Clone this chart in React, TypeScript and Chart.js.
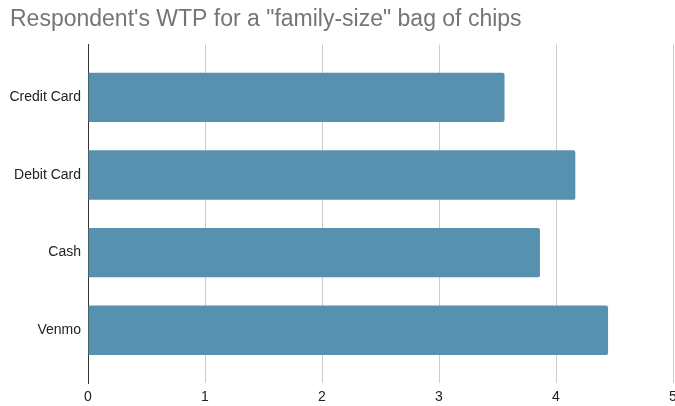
import React, { useEffect, useRef } from "react";
import { Chart, registerables } from "chart.js";

Chart.register(...registerables);

const title = 'Respondent\'s WTP for a "family-size" bag of chips';
const categories = ["Credit Card", "Debit Card", "Cash", "Venmo"];
const values = [3.56, 4.165, 3.863, 4.445];
const xTicks = [0, 1, 2, 3, 4, 5];

const FONT = "'Liberation Sans', Arial, sans-serif";

export default function App() {
  const ref = useRef<HTMLCanvasElement | null>(null);
  useEffect(() => {
    document.body.style.margin = "0";
    const canvas = ref.current;
    if (!canvas) return;
    const chart = new Chart(canvas, {
      type: "bar",
      data: {
        datasets: [
          {
            data: values.map((v, i) => ({ x: v, y: i })),
            backgroundColor: "#5891af",
            borderRadius: 2,
            borderSkipped: "start",
            categoryPercentage: 1,
            barPercentage: 0.636,
          },
        ],
      },
      options: {
        indexAxis: "y",
        animation: false,
        responsive: false,
        maintainAspectRatio: false,
        layout: { padding: { left: 10, right: 2, top: 0, bottom: 0 } },
        plugins: {
          legend: { display: false },
          tooltip: { enabled: false },
          title: {
            display: true,
            text: title,
            align: "start",
            color: "#757575",
            font: { family: FONT, size: 23, weight: "normal" },
            padding: { top: 6, bottom: 11 },
          },
        },
        scales: {
          x: {
            type: "linear",
            min: 0,
            max: 5,
            afterBuildTicks: (s: any) => {
              s.ticks = xTicks.map((v) => ({ value: v }));
            },
            afterFit: (s: any) => {
              s.paddingRight = 0;
              s.paddingLeft = 0;
              s.height = 23;
            },
            grid: {
              drawTicks: false,
              color: (c: any) => (c.tick && c.tick.value === 0 ? "#333333" : "#cccccc"),
              lineWidth: 1,
            },
            border: { display: false },
            ticks: {
              padding: 6,
              color: "#222222",
              font: { family: FONT, size: 14 },
            },
          },
          y: {
            type: "linear",
            offset: false,
            min: -0.68,
            max: 3.68,
            reverse: true,
            afterBuildTicks: (s: any) => {
              s.ticks = categories.map((_, i) => ({ value: i }));
            },
            afterFit: (s: any) => {
              s.width = 78;
            },
            grid: { display: false, drawTicks: false, offset: false },
            border: { display: true, color: "#333333", width: 1 },
            ticks: {
              padding: 7,
              color: "#222222",
              font: { family: FONT, size: 14 },
              callback: (v: any) => categories[v as number] ?? "",
            },
          },
        },
      },
    });
    return () => chart.destroy();
  }, []);
  return (
    <div style={{ position: "fixed", left: 0, top: 0, width: 675, height: 406 }}>
      <canvas ref={ref} width={675} height={406} style={{ width: 675, height: 406 }} />
    </div>
  );
}
